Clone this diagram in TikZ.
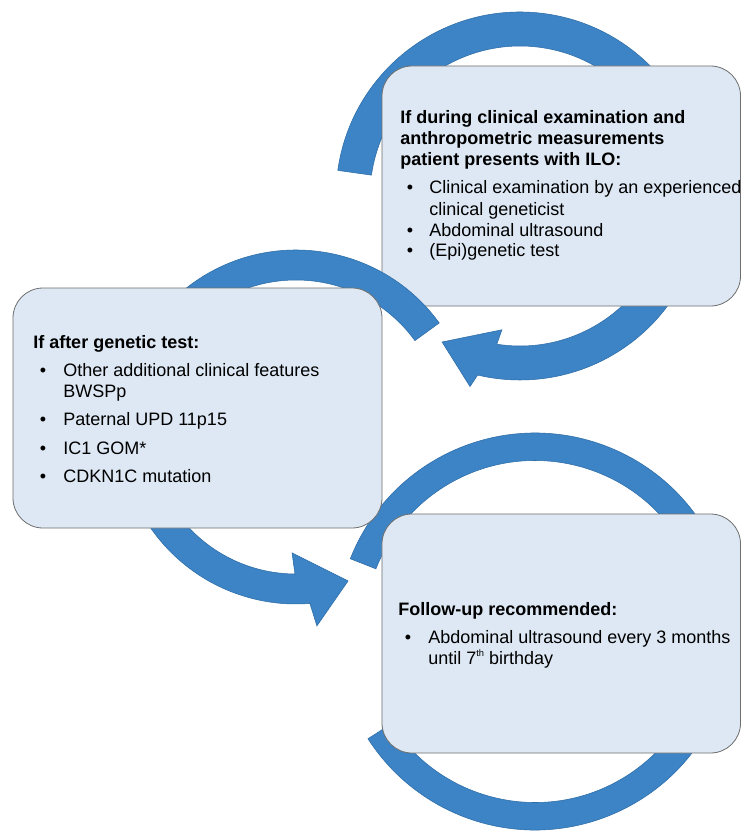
\documentclass[tikz,border=0pt]{standalone}
\usepackage{fontspec}
\setmainfont{Liberation Sans}
\usetikzlibrary{calc}
\definecolor{ringblue}{HTML}{3C84C5}
\definecolor{ringedge}{HTML}{2D6BA6}
\definecolor{boxfill}{HTML}{DDE8F4}
\definecolor{boxedge}{HTML}{6E6E6E}
\begin{document}
\begin{tikzpicture}[x=0.75pt,y=0.75pt,
  ring/.style={fill=ringblue,draw=ringedge,line width=0.4pt},
  box/.style={fill=boxfill,draw=boxedge,line width=0.6pt},
  txt/.style={anchor=base west,inner sep=0pt,font=\fontsize{13.5}{16}\selectfont},
  head/.style={txt,font=\fontsize{13.5}{16}\selectfont\bfseries},
  bul/.style={anchor=base,inner sep=0pt,font=\fontsize{13.5}{16}\selectfont}]
\useasboundingbox (0,0) rectangle (741,-831);
\fill[white] (0,0) rectangle (741,-831);

% ---- top ring (behind top box)
\coordinate (c1) at (520,-196);
\path[ring] ($(c1)+(-188:184)$) arc[start angle=-188,end angle=-463.3,radius=184]
  -- ($(c1)+(-464.7:197)$) -- ($(c1)+(-478.1:165.5)$) -- ($(c1)+(-457.7:135)$)
  -- ($(c1)+(-458.9:150)$) arc[start angle=-458.9,end angle=-188,radius=150] -- cycle;

% ---- top box (sharp lower-left corner)
\path[box] (382,-306) -- (382,-96) arc[start angle=180,end angle=90,radius=30]
  -- (710.5,-66) arc[start angle=90,end angle=0,radius=30]
  -- (740.5,-276) arc[start angle=0,end angle=-90,radius=30] -- cycle;
\coordinate (topbox) at (561,-186);

% ---- left ring
\coordinate (c2) at (296,-427);
\path[ring] ($(c2)+(36:177)$) arc[start angle=36,end angle=274.5,radius=177]
  -- ($(c2)+(276:200)$) -- ($(c2)+(288.7:162.5)$) -- ($(c2)+(268.2:126)$)
  -- ($(c2)+(269.6:147)$) arc[start angle=269.6,end angle=36,radius=147] -- cycle;

% ---- bottom ring
\coordinate (c3) at (535,-631.5);
\path[ring] ($(c3)+(-201.5:198.5)$) arc[start angle=-201.5,end angle=-507.3,radius=198.5]
  -- ($(c3)+(-507.3:171)$) arc[start angle=-507.3,end angle=-201.5,radius=171] -- cycle;

% ---- left and bottom boxes
\node[box,rounded corners=22.5pt,minimum width=276.75pt,minimum height=180pt,inner sep=0pt]
  (leftbox) at (197.5,-408) {};
\node[box,rounded corners=22.5pt,minimum width=268.9pt,minimum height=179.25pt,inner sep=0pt]
  (botbox) at (561.25,-633.5) {};

% ---- texts: top box
\node[head] (t1) at (400,-124) {If during clinical examination and};
\node[head] (t2) at (400,-145) {anthropometric measurements};
\node[head] (t3) at (400,-166) {patient presents with ILO:};
\node[bul] (t4b) at (410,-194) {•};
\node[txt] (t4) at (429,-194) {Clinical examination by an experienced};
\node[txt] (t5) at (429,-215) {clinical geneticist};
\node[bul] (t6b) at (410,-236) {•};
\node[txt] (t6) at (429,-236) {Abdominal ultrasound};
\node[bul] (t7b) at (410,-256) {•};
\node[txt] (t7) at (429,-256) {(Epi)genetic test};

% ---- texts: left box
\node[head] (l1) at (33,-348) {If after genetic test:};
\node[bul] (l2b) at (43,-376) {•};
\node[txt] (l2) at (63,-376) {Other additional clinical features};
\node[txt] (l3) at (63,-397) {BWSPp};
\node[bul] (l4b) at (43,-425) {•};
\node[txt] (l4) at (63,-425) {Paternal UPD 11p15};
\node[bul] (l5b) at (43,-454) {•};
\node[txt] (l5) at (63,-454) {IC1 GOM*};
\node[bul] (l6b) at (43,-482) {•};
\node[txt] (l6) at (63,-482) {CDKN1C mutation};

% ---- texts: bottom box
\node[head] (b1) at (398,-615) {Follow-up recommended:};
\node[bul] (b2b) at (408,-643) {•};
\node[txt] (b2) at (428,-643) {Abdominal ultrasound every 3 months};
\node[txt] (b3) at (428,-664) {until 7\raisebox{0.42em}{\fontsize{7}{8}\selectfont th} birthday};
\end{tikzpicture}
\end{document}
